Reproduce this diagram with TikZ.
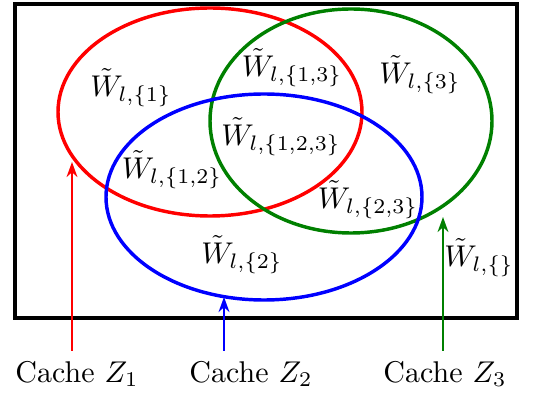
\documentclass[tikz,border=0pt]{standalone}
\usetikzlibrary{arrows.meta}
\definecolor{vred}{RGB}{255,0,0}
\definecolor{vblue}{RGB}{0,0,255}
\definecolor{vgreen}{RGB}{0,128,0}
\begin{document}
\begin{tikzpicture}[x=0.3333pt,y=-0.3333pt,
  setline/.style={line width=1.15pt},
  uparrow/.style={line width=0.8pt,-{Stealth[length=5pt,width=3.6pt,inset=1.6pt]}},
  lbl/.style={inner sep=0pt,font=\normalsize},
  cachelbl/.style={inner sep=0pt,font=\normalsize}]
\useasboundingbox (0,0) rectangle (540,395);
% universe box
\draw[line width=1.35pt] (15,4) rectangle (517,318);
% sets
\draw[setline,vred]   (210,112) ellipse [x radius=152*0.3333pt, y radius=104*0.3333pt];
\draw[setline,vgreen] (351,121) ellipse [x radius=141*0.3333pt, y radius=112*0.3333pt];
\draw[setline,vblue]  (264,197) ellipse [x radius=158*0.3333pt, y radius=103*0.3333pt];
% region labels
\node[lbl] (w1)   at (131,88)  {$\tilde{W}_{l,\{1\}}$};
\node[lbl] (w13)  at (292,68)  {$\tilde{W}_{l,\{1,3\}}$};
\node[lbl] (w3)   at (420,75)  {$\tilde{W}_{l,\{3\}}$};
\node[lbl] (w123) at (281,137) {$\tilde{W}_{l,\{1,2,3\}}$};
\node[lbl] (w12)  at (172,170) {$\tilde{W}_{l,\{1,2\}}$};
\node[lbl] (w23)  at (368,200) {$\tilde{W}_{l,\{2,3\}}$};
\node[lbl] (w2)   at (242,255) {$\tilde{W}_{l,\{2\}}$};
\node[lbl] (w0)   at (479,258) {$\tilde{W}_{l,\{\}}$};
% cache labels
\node[cachelbl] (c1) at (77,374)  {Cache $Z_1$};
\node[cachelbl] (c2) at (251,374) {Cache $Z_2$};
\node[cachelbl] (c3) at (445,374) {Cache $Z_3$};
% arrow targets on the ellipses
\coordinate (t1) at (72,162);
\coordinate (t2) at (224,297);
\coordinate (t3) at (443,217);
\coordinate (s1) at (72,351);
\coordinate (s2) at (224,351);
\coordinate (s3) at (443,351);
\draw[uparrow,vred]   (s1) -- (t1);
\draw[uparrow,vblue]  (s2) -- (t2);
\draw[uparrow,vgreen] (s3) -- (t3);
\end{tikzpicture}
\end{document}
